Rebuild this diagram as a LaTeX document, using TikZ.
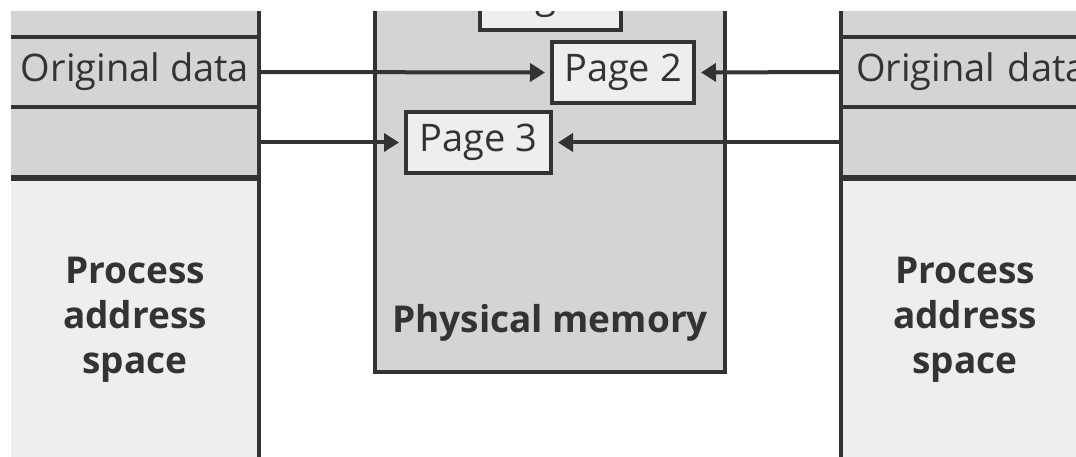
\documentclass[tikz,border=0pt]{standalone}
\usepackage{fontspec}
\setmainfont{Open Sans}
\usetikzlibrary{arrows.meta}
\definecolor{boxgray}{HTML}{D3D4D6}
\definecolor{boxlight}{HTML}{EEEEEE}
\definecolor{ink}{HTML}{333333}
\tikzset{
  cell/.style={fill=boxgray, draw=none, inner sep=0pt, outer sep=0pt, text=ink,
    font=\fontsize{38}{44}\selectfont},
  spacecell/.style={fill=boxlight, draw=none, inner sep=0pt, outer sep=0pt, text=ink,
    align=center, font=\bfseries\fontsize{37}{45}\selectfont},
  sepline/.style={draw=ink, line width=4pt},
  thicksep/.style={draw=ink, line width=6pt},
  border/.style={draw=ink, line width=4pt},
  pagebox/.style={fill=boxlight, draw=ink, line width=4pt, inner sep=0pt,
    minimum width=142pt, minimum height=61pt, text=ink,
    font=\fontsize{38}{44}\selectfont},
  conn/.style={draw=ink, line width=4pt, shorten >=5pt,
    -{Triangle[length=15pt,width=18pt]}},
}
\begin{document}
\begin{tikzpicture}[x=1pt,y=-1pt]
\useasboundingbox (0,0) rectangle (1076,457);
\clip (11,12) rectangle (1076,457);

% ---------- left process address space ----------
\node[cell, minimum width=248pt, minimum height=37pt] (ltop) at (135,18.5) {};
\node[cell, minimum width=248pt, minimum height=70pt] (lorig) at (135,72) {Original data};
\node[cell, minimum width=248pt, minimum height=71pt] (lempty) at (135,142.5) {};
\node[spacecell, minimum width=248pt, minimum height=284pt] (lspace) at (135,320)
  {Process\\address\\space};
\draw[sepline] (lorig.north west) -- (lorig.north east);
\draw[sepline] (lempty.north west) -- (lempty.north east);
\draw[thicksep] (lspace.north west) -- (lspace.north east);
\draw[border] ([yshift=20pt]ltop.north east) -- ([yshift=-20pt]lspace.south east);

% ---------- right process address space ----------
\node[cell, minimum width=248pt, minimum height=37pt] (rtop) at (965,18.5) {};
\node[cell, minimum width=248pt, minimum height=70pt, text width=218pt, align=left] (rorig) at (965,72) {\mbox{Original data}};
\node[cell, minimum width=248pt, minimum height=71pt] (rempty) at (965,142.5) {};
\node[spacecell, minimum width=248pt, minimum height=284pt] (rspace) at (965,320)
  {Process\\address\\space};
\draw[sepline] (rorig.north west) -- (rorig.north east);
\draw[sepline] (rempty.north west) -- (rempty.north east);
\draw[thicksep] (rspace.north west) -- (rspace.north east);
\draw[border] ([yshift=20pt]rtop.north west) -- ([yshift=-20pt]rspace.south west);

% ---------- physical memory ----------
\node[fill=boxgray, border, inner sep=0pt, minimum width=350pt, minimum height=400pt]
  (phys) at (550,172) {};
\node[text=ink, font=\bfseries\fontsize{37}{45}\selectfont, anchor=base] (physlabel)
  at (550,332) {Physical memory};

\node[pagebox, minimum width=141pt] (p1) at (550.5,0) {Page 1};
\node[pagebox] (p2) at (623,72.5) {Page 2};
\node[pagebox, minimum width=145pt] (p3) at (478.5,142.5) {Page 3};

% ---------- connectors ----------
\draw[conn] (lorig.east) -- (p2.west);
\draw[conn] (rorig.west) -- (p2.east);
\draw[conn] (lempty.east) -- (p3.west);
\draw[conn] (rempty.west) -- (p3.east);
\end{tikzpicture}
\end{document}
